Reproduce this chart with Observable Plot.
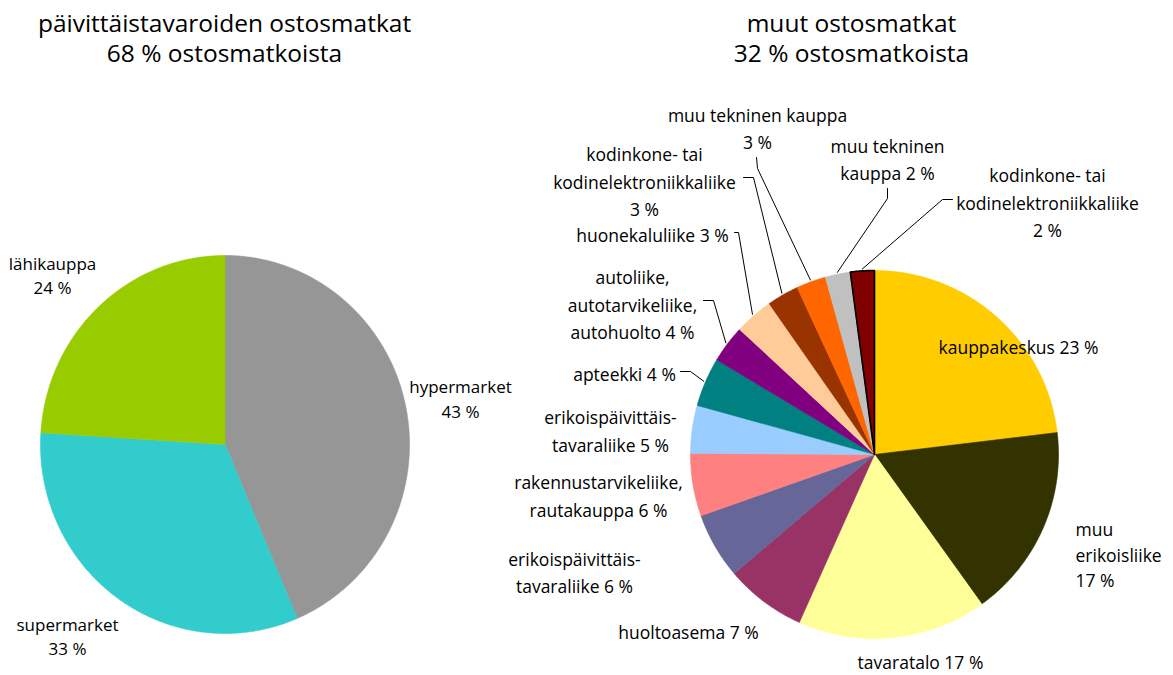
<!DOCTYPE html>
<html><head><meta charset="utf-8">
<script src="https://cdn.jsdelivr.net/npm/d3@7"></script>
<script src="https://cdn.jsdelivr.net/npm/@observablehq/plot@0.6"></script>
<style>body{margin:0;background:#fff}#chart{width:1173px;height:675px}</style>
</head><body><div id="chart"></div>
<script>
// ---- data: left pie (päivittäistavaroiden ostosmatkat) ----
const leftTitle = "päivittäistavaroiden ostosmatkat\n68 % ostosmatkoista";
const leftCategories = ["hypermarket", "supermarket", "lähikauppa"];
const leftValues = [43.6, 32.4, 24.0];
const leftLabels = ["hypermarket\n43 %", "supermarket\n33 %", "lähikauppa\n24 %"];
const leftColors = ["#969696", "#33CCCC", "#99CC00"];

// ---- data: right pie (muut ostosmatkat) ----
const rightTitle = "muut ostosmatkat\n32 % ostosmatkoista";
const rightCategories = [
  "kauppakeskus", "muu erikoisliike", "tavaratalo", "huoltoasema",
  "erikoispäivittäistavaraliike (6)", "rakennustarvikeliike, rautakauppa",
  "erikoispäivittäistavaraliike (5)", "apteekki", "autoliike, autotarvikeliike, autohuolto",
  "huonekaluliike", "kodinkone- tai kodinelektroniikkaliike (3)", "muu tekninen kauppa (3)",
  "muu tekninen kauppa (2)", "kodinkone- tai kodinelektroniikkaliike (2)"
];
const rightValues = [23.1, 17.0, 16.6, 7.1, 5.8, 5.5, 4.2, 4.3, 3.3, 3.4, 2.8, 2.6, 2.2, 2.1];
const rightLabels = [
  "kauppakeskus 23 %", "muu\nerikoisliike\n17 %", "tavaratalo 17 %", "huoltoasema 7 %",
  "erikoispäivittäis-\ntavaraliike 6 %", "rakennustarvikeliike,\nrautakauppa 6 %",
  "erikoispäivittäis-\ntavaraliike 5 %", "apteekki 4 %", "autoliike,\nautotarvikeliike,\nautohuolto 4 %",
  "huonekaluliike 3 %", "kodinkone- tai\nkodinelektroniikkaliike\n3 %", "muu tekninen kauppa\n3 %",
  "muu tekninen\nkauppa 2 %", "kodinkone- tai\nkodinelektroniikkaliike\n2 %"
];
const rightColors = ["#FFCC00", "#333300", "#FFFF99", "#993366", "#666699", "#FF8080",
  "#99CCFF", "#008080", "#800080", "#FFCC99", "#993300", "#FF6600", "#C0C0C0", "#800000"];
const outlinedCategory = "kodinkone- tai kodinelektroniikkaliike (2)";

// ---- layout (positions of pies, labels, leader elbows) ----
const leftPie = {cx: 224.5, cy: 444, rx: 184.5, ry: 189};
const rightPie = {cx: 874, cy: 454, rx: 184, ry: 184};
const titlePos = [{x: 224, y: 37}, {x: 851, y: 37}];
const leftLabelPos = [{x: 460, y: 397}, {x: 67, y: 634.5}, {x: 52, y: 273.5}];
const rightLabelPos = [
  {x: 1018, y: 345, anchor: "middle"}, {x: 1075, y: 553, anchor: "start"},
  {x: 920, y: 660, anchor: "middle"}, {x: 688, y: 630, anchor: "middle"},
  {x: 574, y: 570, anchor: "middle"}, {x: 598, y: 493.5, anchor: "middle"},
  {x: 610, y: 428.5, anchor: "middle"}, {x: 624, y: 372, anchor: "middle"},
  {x: 632, y: 302.5, anchor: "middle"}, {x: 652, y: 233, anchor: "middle"},
  {x: 644, y: 179.5, anchor: "middle"}, {x: 757, y: 126, anchor: "middle"},
  {x: 887, y: 157, anchor: "middle"}, {x: 1047, y: 200.5, anchor: "middle"}
];
// leader lines: [label-side start, elbow], end is computed on the slice rim
const leaderElbows = {
  7: [[680, 371], [690, 371]],
  8: [[703, 300], [713, 300]],
  9: [[734, 232], [738, 232]],
  10: [[743, 177], [753, 177]],
  11: [[756, 157], [757, 168]],
  12: [[887, 188], [887, 198]],
  13: [[952, 199], [942, 199]]
};

// ---- build slice polygons via d3.pie ----
function slices(cats, vals, colors, pie, prefix) {
  const arcs = d3.pie().sort(null).value(d => d)(vals);
  const pts = [];
  arcs.forEach((a, i) => {
    const key = prefix + i;
    pts.push({key, cat: cats[i], color: colors[i], x: pie.cx, y: pie.cy});
    const n = Math.max(2, Math.ceil((a.endAngle - a.startAngle) / (Math.PI / 360)));
    for (let k = 0; k <= n; k++) {
      const t = a.startAngle + (a.endAngle - a.startAngle) * k / n;
      pts.push({key, cat: cats[i], color: colors[i], x: pie.cx + pie.rx * Math.sin(t), y: pie.cy - pie.ry * Math.cos(t)});
    }
    pts.push({key, cat: cats[i], color: colors[i], x: pie.cx, y: pie.cy});
  });
  return {pts, arcs};
}
const L = slices(leftCategories, leftValues, leftColors, leftPie, "L");
const R = slices(rightCategories, rightValues, rightColors, rightPie, "R");

const leaders = [];
Object.entries(leaderElbows).forEach(([i, [p0, p1]]) => {
  const a = R.arcs[+i];
  const m = (a.startAngle + a.endAngle) / 2;
  const r = 1.01;
  leaders.push({key: i, x: p0[0], y: p0[1]});
  leaders.push({key: i, x: p1[0], y: p1[1]});
  leaders.push({key: i, x: rightPie.cx + r * rightPie.rx * Math.sin(m), y: rightPie.cy - r * rightPie.ry * Math.cos(m)});
});

const labelFont = "'Open Sans', Lato, sans-serif";
const leftText = leftLabels.map((t, i) => ({text: t, ...leftLabelPos[i]}));
const rightText = rightLabels.map((t, i) => ({text: t, ...rightLabelPos[i]}));
const titles = [leftTitle, rightTitle].map((t, i) => ({text: t, ...titlePos[i]}));

const chart = Plot.plot({
  width: 1173, height: 675, margin: 0,
  x: {domain: [0, 1173], range: [0, 1173], axis: null},
  y: {domain: [0, 675], range: [0, 675], axis: null},
  color: {type: "identity"},
  style: {background: "#fff"},
  marks: [
    Plot.line(L.pts, {x: "x", y: "y", z: "key", fill: "color", stroke: "color", strokeWidth: 0.6}),
    Plot.line(R.pts, {x: "x", y: "y", z: "key", fill: "color", stroke: "color", strokeWidth: 0.6}),
    Plot.line(R.pts.filter(d => d.cat === outlinedCategory), {x: "x", y: "y", z: "key", stroke: "#000", strokeWidth: 1.6, strokeLinejoin: "miter"}),
    Plot.line(leaders, {x: "x", y: "y", z: "key", stroke: "#000", strokeWidth: 1}),
    Plot.text(leftText, {x: "x", y: "y", text: "text", fontSize: 17, lineHeight: 1.45, fill: "#000", fontFamily: labelFont, textAnchor: "middle"}),
    Plot.text(rightText.filter(d => d.anchor === "middle"), {x: "x", y: "y", text: "text", fontSize: 17.5, lineHeight: 1.57, fill: "#000", fontFamily: labelFont, textAnchor: "middle"}),
    Plot.text(rightText.filter(d => d.anchor === "start"), {x: "x", y: "y", text: "text", fontSize: 17.5, lineHeight: 1.43, fill: "#000", fontFamily: labelFont, textAnchor: "start"}),
    Plot.text(titles, {x: "x", y: "y", text: "text", fontSize: 24.5, lineHeight: 1.22, fill: "#000", fontFamily: labelFont, textAnchor: "middle"})
  ]
});
document.getElementById("chart").appendChild(chart);
</script></body></html>
